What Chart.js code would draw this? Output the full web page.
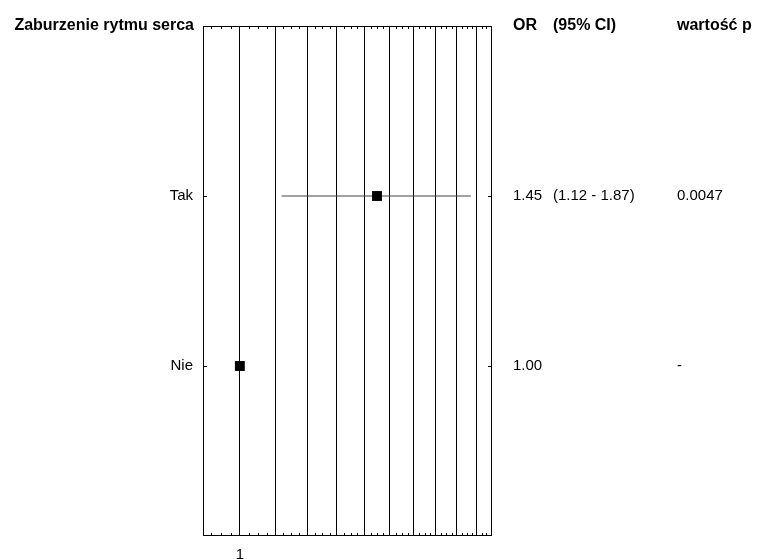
<!DOCTYPE html>
<html>
<head>
<meta charset="utf-8">
<script src="https://cdn.jsdelivr.net/npm/chart.js@4/dist/chart.umd.min.js"></script>
<style>
  html, body { margin: 0; padding: 0; background: #fff; }
  #wrap { width: 768px; height: 559px; }
</style>
</head>
<body>
<div id="wrap"><canvas id="forest"></canvas></div>
<script>
// --- dane ---
const title    = 'Zaburzenie rytmu serca';
const headers  = ['OR', '(95% CI)', 'wartość p'];
const groups   = ['Tak', 'Nie'];
const orVals   = [1.45, 1.00];
const ciLow    = [1.12, null];
const ciHigh   = [1.87, null];
const orText   = ['1.45', '1.00'];
const ciText   = ['(1.12 - 1.87)', ''];
const pText    = ['0.0047', '-'];
const gridVals = [1.0, 1.1, 1.2, 1.3, 1.4, 1.5, 1.6, 1.7, 1.8, 1.9];
const xLabels  = ['1', '', '', '', '', '', '', '', '', ''];
const xMin = 0.905, xMax = 1.98;

const FONT = '"Liberation Sans", Arial, Helvetica, sans-serif';
const colX = [513, 553, 677];

const datasets = [{
  label: 'OR',
  data: groups.map((g, i) => ({ x: orVals[i], y: i + 1 })),
  pointStyle: 'rect',
  pointRadius: 7,
  pointHoverRadius: 7,
  backgroundColor: '#000',
  borderColor: '#000',
  borderWidth: 0,
  showLine: false,
  order: 0
}];
groups.forEach((g, i) => {
  if (ciLow[i] == null) return;
  datasets.push({
    label: 'CI ' + g,
    data: [{ x: ciLow[i], y: i + 1 }, { x: ciHigh[i], y: i + 1 }],
    showLine: true,
    borderColor: '#444',
    borderWidth: 1,
    pointRadius: 0,
    order: 1
  });
});

// ramka, drobne znaczniki i kolumny tekstowe
const forestDecor = {
  id: 'forestDecor',
  afterDraw(chart) {
    const { ctx, chartArea: a, scales } = chart;
    const xs = scales.x, ys = scales.y;
    ctx.save();
    ctx.strokeStyle = '#000';
    ctx.lineWidth = 1;
    ctx.strokeRect(Math.round(a.left) + 0.5, Math.round(a.top) + 0.5,
                   Math.round(a.right - a.left) - 1, Math.round(a.bottom - a.top) - 1);

    // drobne znaczniki co 0.025 na górze i dole
    ctx.beginPath();
    for (let k = 1; k < 44; k++) {
      if (k % 4 === 0) continue;
      const v = 0.9 + k * 0.025;
      if (v <= xMin || v >= xMax) continue;
      const px = Math.round(xs.getPixelForValue(v)) + 0.5;
      ctx.moveTo(px, a.top); ctx.lineTo(px, a.top + 3);
      ctx.moveTo(px, a.bottom); ctx.lineTo(px, a.bottom - 3);
    }
    // znaczniki wierszy na lewej i prawej krawędzi
    groups.forEach((g, i) => {
      const py = Math.round(ys.getPixelForValue(i + 1)) + 0.5;
      ctx.moveTo(a.left, py); ctx.lineTo(a.left + 4, py);
      ctx.moveTo(a.right, py); ctx.lineTo(a.right - 4, py);
    });
    ctx.stroke();

    ctx.fillStyle = '#000';
    ctx.textBaseline = 'middle';
    const hy = ys.getPixelForValue(0);
    ctx.font = 'bold 16px ' + FONT;
    ctx.textAlign = 'right';
    ctx.fillText(title, a.left - 9, hy);
    ctx.textAlign = 'left';
    headers.forEach((h, j) => ctx.fillText(h, colX[j], hy));

    ctx.font = '15px ' + FONT;
    groups.forEach((g, i) => {
      const py = ys.getPixelForValue(i + 1);
      ctx.fillText(orText[i], colX[0], py);
      ctx.fillText(ciText[i], colX[1], py);
      ctx.fillText(pText[i], colX[2], py);
    });
    ctx.restore();
  }
};

new Chart(document.getElementById('forest'), {
  type: 'scatter',
  data: { datasets },
  plugins: [forestDecor],
  options: {
    responsive: true,
    maintainAspectRatio: false,
    animation: false,
    layout: { padding: { top: 26, right: 276, left: 0, bottom: 0 } },
    plugins: { legend: { display: false }, tooltip: { enabled: false } },
    scales: {
      x: {
        type: 'logarithmic',
        min: xMin,
        max: xMax,
        afterBuildTicks: s => { s.ticks = gridVals.map(v => ({ value: v })); },
        afterFit: s => { s.height = 23; },
        grid: { color: '#000', lineWidth: 1, drawTicks: false },
        border: { display: false },
        ticks: {
          autoSkip: false,
          maxRotation: 0,
          padding: 10,
          color: '#000',
          font: { size: 15, family: FONT },
          callback: (v, i) => xLabels[i]
        }
      },
      y: {
        type: 'linear',
        min: 0,
        max: 3,
        reverse: true,
        afterBuildTicks: s => { s.ticks = groups.map((g, i) => ({ value: i + 1 })); },
        afterFit: s => { s.width = 203; },
        grid: { display: false, drawTicks: false },
        border: { display: false },
        ticks: {
          padding: 10,
          color: '#000',
          font: { size: 15, family: FONT },
          callback: (v, i) => groups[i]
        }
      }
    }
  }
});
</script>
</body>
</html>
